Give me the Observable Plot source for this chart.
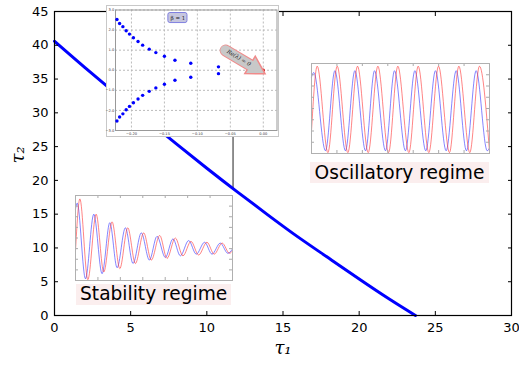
<!DOCTYPE html>
<html>
<head>
<meta charset="utf-8">
<script src="https://cdn.jsdelivr.net/npm/d3@7"></script>
<script src="https://cdn.jsdelivr.net/npm/@observablehq/plot@0.6"></script>
<style>
  body { margin: 0; background: white; }
  #wrap { position: relative; width: 519px; height: 366px; overflow: hidden; font-family: "DejaVu Sans", sans-serif; }
  .abs { position: absolute; }
  .lbl { position: absolute; background: #fbeeee; color: black; font-family: "DejaVu Sans", sans-serif; text-align: center; white-space: nowrap; }
</style>
</head>
<body>
<div id="wrap"></div>
<script>
// ---- main curve: stability boundary ----
const tau1 = [0, 2, 4, 6, 8, 10, 12, 14, 16, 18, 20, 22, 23.7];
const tau2 = [40.6, 36.7, 32.9, 29.1, 25.4, 21.8, 18.3, 14.9, 11.6, 8.5, 5.4, 2.4, 0];
const xTicks = [0, 5, 10, 15, 20, 25, 30];
const yTicks = [0, 5, 10, 15, 20, 25, 30, 35, 40, 45];
const connectorTau1 = [11.72];

// ---- inset 1: eigenvalues ----
const eigRe = [-0.222, -0.218, -0.213, -0.208, -0.203, -0.197, -0.190, -0.183, -0.173, -0.163, -0.150, -0.134, -0.110, -0.068];
const eigIm = [2.53, 2.33, 2.17, 1.97, 1.80, 1.62, 1.43, 1.25, 1.05, 0.88, 0.70, 0.50, 0.35, 0.17];
const eigCritRe = [0.0];
const eigCritIm = [0.0];
const eigXTicks = [-0.20, -0.15, -0.10, -0.05, 0.00];
const eigYTicks = [-3, -2, -1, 0, 1, 2, 3];

// ---- inset 2: oscillatory regime ----
const oscBlueT = [0, 1.8, 11.0, 18.4, 26.7, 34.1, 42.5, 49.6, 58.2, 65.3, 73.9, 81.3, 89.9, 97.5, 105.9, 113.8, 121.9, 129.5, 138.2, 140];
const oscBlueV = [0.85, 0.90, 0.03, 0.92, 0.03, 0.92, 0.03, 0.92, 0.03, 0.92, 0.03, 0.92, 0.03, 0.92, 0.03, 0.92, 0.03, 0.92, 0.03, 0.06];
const oscRedT = [0, 4.5, 12.9, 20.2, 28.6, 36.2, 44.6, 52.2, 60.6, 67.9, 76.6, 83.9, 92.3, 99.9, 108.5, 115.9, 124.5, 132.1, 140];
const oscRedV = [0.25, 0.97, 0.01, 0.97, 0.01, 0.97, 0.01, 0.97, 0.01, 0.97, 0.01, 0.97, 0.01, 0.97, 0.01, 0.97, 0.01, 0.97, 0.02];

// ---- inset 3: stability regime ----
const stabBlueT = [0, 1.5, 8.9, 16.3, 23.7, 30.6, 37.1, 44.5, 51.3, 58.7, 65.9, 72.7, 80.1, 86.9, 93.5, 100.9, 107.7, 115.1, 121.7, 129.1, 135.9, 140];
const stabBlueV = [0.84, 0.91, 0.02, 0.78, 0.08, 0.68, 0.15, 0.62, 0.20, 0.56, 0.24, 0.52, 0.27, 0.49, 0.29, 0.47, 0.31, 0.45, 0.31, 0.44, 0.32, 0.37];
const stabRedT = [0, 3.9, 11.0, 18.4, 25.2, 32.6, 39.5, 46.6, 53.4, 60.8, 67.6, 75.1, 81.6, 89.0, 95.8, 103.0, 109.8, 117.2, 123.7, 130.8, 137.4, 140];
const stabRedV = [0.35, 0.96, 0.01, 0.78, 0.10, 0.69, 0.14, 0.62, 0.20, 0.56, 0.24, 0.53, 0.26, 0.50, 0.29, 0.46, 0.30, 0.45, 0.31, 0.44, 0.32, 0.35];
const timeTicks = [20, 40, 60, 80, 100, 120];
const ampTicks = [0.125, 0.25, 0.375, 0.5, 0.625, 0.75, 0.875];

const zip = (xs, ys) => xs.map((x, i) => ({x, y: ys[i]}));
const wrap = document.getElementById("wrap");

// ===== main plot =====
const main = Plot.plot({
  width: 519, height: 366,
  marginLeft: 54, marginRight: 8, marginTop: 11, marginBottom: 51,
  style: {fontFamily: "DejaVu Sans", fontSize: "13px", background: "white", color: "black", overflow: "visible"},
  x: {domain: [0, 30]},
  y: {domain: [0, 45]},
  marks: [
    Plot.ruleX(connectorTau1, {x: d => d, y1: 18.7, y2: 30, stroke: "#222", strokeWidth: 1}),
    Plot.line(zip(tau1, tau2), {x: "x", y: "y", stroke: "#0000ff", strokeWidth: 3, curve: "natural"}),
    Plot.frame({stroke: "black", strokeWidth: 1.2}),
    Plot.axisX({ticks: xTicks, tickSize: 0, tickPadding: 7, label: null}),
    Plot.axisY({ticks: yTicks, tickSize: 0, tickPadding: 6, label: null}),
    Plot.axisX({anchor: "bottom", ticks: xTicks, tickSize: -4, tickFormat: () => "", label: null}),
    Plot.axisX({anchor: "top", ticks: xTicks, tickSize: -4, tickFormat: () => "", label: null}),
    Plot.axisY({anchor: "left", ticks: yTicks, tickSize: -4, tickFormat: () => "", label: null}),
    Plot.axisY({anchor: "right", ticks: yTicks, tickSize: -4, tickFormat: () => "", label: null}),
    Plot.text(["τ₁"], {text: d => d, frameAnchor: "bottom", dy: 38, fontSize: 18, fontFamily: "DejaVu Serif", fontStyle: "italic"}),
    Plot.text(["τ₂"], {text: d => d, frameAnchor: "left", dx: -36, rotate: -90, fontSize: 18, fontFamily: "DejaVu Serif", fontStyle: "italic"})
  ]
});
main.style.position = "absolute"; main.style.left = "0px"; main.style.top = "0px";
wrap.appendChild(main);

// ===== inset 1: eigenvalue scatter =====
const eigPts = zip(eigRe, eigIm).concat(zip(eigRe, eigIm.map(v => -v)));
const eig = Plot.plot({
  width: 171, height: 130,
  marginLeft: 8, marginTop: 3.5, marginRight: 1.5, marginBottom: 6,
  style: {fontFamily: "DejaVu Sans", fontSize: "3.6px", background: "white", color: "#333", overflow: "visible"},
  x: {domain: [-0.2242, 0.0208]},
  y: {domain: [-3, 3]},
  marks: [
    Plot.gridX(eigXTicks, {stroke: "#bbb", strokeOpacity: 1, strokeDasharray: "2,2"}),
    Plot.gridY(eigYTicks, {stroke: "#bbb", strokeOpacity: 1, strokeDasharray: "2,2"}),
    Plot.frame({stroke: "#999"}),
    Plot.axisX({ticks: eigXTicks, tickSize: 0, tickPadding: 1.5, tickFormat: d3.format(".2f"), label: null}),
    Plot.axisY({ticks: eigYTicks, tickSize: 0, tickPadding: 1.2, label: null}),
    Plot.dot(eigPts, {x: "x", y: "y", r: 1.7, fill: "#0000ff"}),
    Plot.dot(zip(eigCritRe, eigCritIm), {x: "x", y: "y", r: 1.7, fill: "#cc2020"}),
    // beta label box
    Plot.rect([0], {x1: -0.144, x2: -0.115, y1: 2.35, y2: 2.85, fill: "#c6c6de", stroke: "#8080e0", rx: 2}),
    Plot.text(["β = 1"], {text: d => d, x: -0.1295, y: 2.6, fontSize: 5.5, fontFamily: "DejaVu Serif", fill: "#222"}),
    // Re(λ)=0 arrow annotation
    Plot.line([{x: -0.057, y: 0.98}, {x: -0.017, y: 0.2}], {x: "x", y: "y", stroke: "#f08a8a", strokeWidth: 12}),
    Plot.dot([0], {x: -0.0125, y: 0.12, symbol: "triangle", r: 7.5, rotate: 121, fill: "#c8c8c8", stroke: "#f08a8a"}),
    Plot.line([{x: -0.0575, y: 0.99}, {x: -0.0165, y: 0.19}], {x: "x", y: "y", stroke: "#c8c8c8", strokeWidth: 10}),
    Plot.text(["Re(λ) = 0"], {text: d => d, x: -0.037, y: 0.62, rotate: 31, fontSize: 5.5, fontFamily: "DejaVu Serif", fontStyle: "italic", fill: "#222"})
  ]
});
const eigBox = document.createElement("div");
eigBox.className = "abs";
Object.assign(eigBox.style, {left: "106px", top: "5px", border: "1px solid #c8c8c8", background: "white", lineHeight: "0"});
eigBox.appendChild(eig);
wrap.appendChild(eigBox);

// ===== oscillation insets =====
function oscPlot(bt, bv, rt, rv, w, h) {
  const ih = h - 2;
  const iw = w - 2;
  return Plot.plot({
    width: w, height: h, margin: 1,
    style: {background: "white"},
    x: {domain: [0, 140], axis: null},
    y: {domain: [0, 1], axis: null},
    marks: [
      Plot.line(zip(bt, bv), {x: "x", y: "y", stroke: "#3333ff", strokeOpacity: 0.6, strokeWidth: 1, curve: "monotone-x"}),
      Plot.line(zip(rt, rv), {x: "x", y: "y", stroke: "#ff3333", strokeOpacity: 0.6, strokeWidth: 1, curve: "monotone-x"}),
      Plot.tickX(timeTicks, {x: d => d, insetBottom: ih - 3, stroke: "#aaa"}),
      Plot.tickX(timeTicks, {x: d => d, insetTop: ih - 3, stroke: "#aaa"}),
      Plot.tickY(ampTicks, {y: d => d, insetRight: iw - 3, stroke: "#aaa"}),
      Plot.tickY(ampTicks, {y: d => d, insetLeft: iw - 3, stroke: "#aaa"}),
      Plot.frame({stroke: "#b0b0b0"})
    ]
  });
}
const osc = oscPlot(oscBlueT, oscBlueV, oscRedT, oscRedV, 180, 92);
osc.style.position = "absolute"; osc.style.left = "310px"; osc.style.top = "61.5px";
wrap.appendChild(osc);

const stab = oscPlot(stabBlueT, stabBlueV, stabRedT, stabRedV, 159, 87);
stab.style.position = "absolute"; stab.style.left = "74px"; stab.style.top = "194px";
wrap.appendChild(stab);

// ===== regime labels =====
function label(text, l, t, w, h) {
  const d = document.createElement("div");
  d.className = "lbl";
  d.textContent = text;
  Object.assign(d.style, {left: l + "px", top: t + "px", width: w + "px", height: h + "px", lineHeight: h + "px", fontSize: "18.6px"});
  wrap.appendChild(d);
}
label("Oscillatory regime", 310, 162, 179, 21);
label("Stability regime", 76, 284.3, 155.3, 20.7);
</script>
</body>
</html>
